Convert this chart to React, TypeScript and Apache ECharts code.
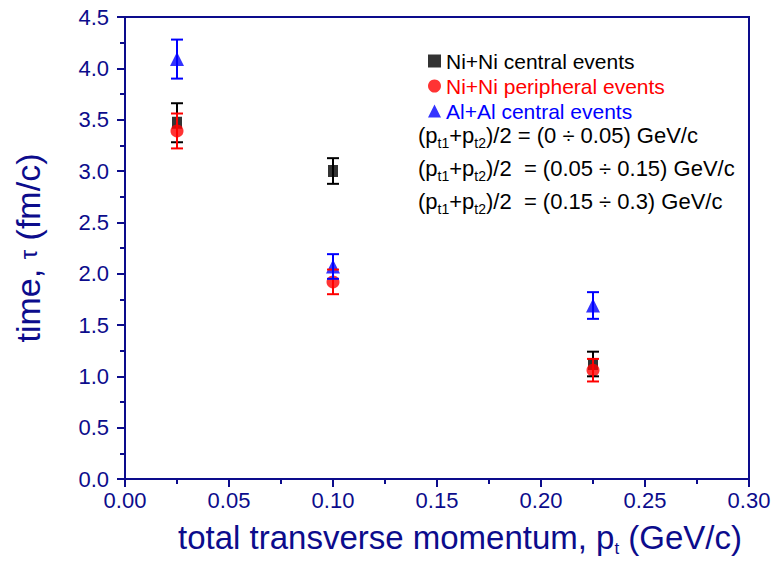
import React, { useEffect, useRef } from "react";
import * as echarts from "echarts";

const seriesNames = ["Ni+Ni central events", "Ni+Ni peripheral events", "Al+Al central events"];
const seriesColors = ["#000000", "#ff0000", "#0000ff"];
const seriesSymbols = ["rect", "circle", "triangle"];
const xValues = [0.025, 0.1, 0.225];
const niCentral = [3.47, 3.0, 1.12];
const niCentralErr = [0.19, 0.125, 0.12];
const niPeripheral = [3.39, 1.92, 1.06];
const niPeripheralErr = [0.17, 0.12, 0.11];
const alCentral = [4.09, 2.07, 1.69];
const alCentralErr = [0.19, 0.12, 0.13];
const rangeLines = ["(0 ÷ 0.05) GeV/c", "(0.05 ÷ 0.15) GeV/c", "(0.15 ÷ 0.3) GeV/c"];

const NAVY = "#0c0c8c";
const FONT = "Liberation Sans, Arial, sans-serif";

export default function App() {
  const ref = useRef<HTMLDivElement>(null);
  useEffect(() => {
    if (!ref.current) return;
    const chart = echarts.init(ref.current, undefined, { renderer: "svg" });
    const values = [niCentral, niPeripheral, alCentral];
    const errs = [niCentralErr, niPeripheralErr, alCentralErr];
    const symbolSizes: any[] = [[10, 12], 13, 14];

    const scatterSeries = values.map((vals, i) => ({
      name: seriesNames[i],
      type: "scatter",
      symbol: seriesSymbols[i],
      symbolSize: symbolSizes[i],
      itemStyle: { color: seriesColors[i] },
      data: xValues.map((x, j) => [x, vals[j]]),
      z: 2,
    }));

    const errSeries = values.map((vals, i) => ({
      name: seriesNames[i] + " err",
      type: "custom",
      z: 3,
      data: xValues.map((x, j) => [x, vals[j] - errs[i][j], vals[j] + errs[i][j]]),
      renderItem: (params: any, api: any) => {
        const x = api.value(0);
        const lo = api.coord([x, api.value(1)]);
        const hi = api.coord([x, api.value(2)]);
        const hw = 6;
        const style = { stroke: seriesColors[i], lineWidth: 2 };
        return {
          type: "group",
          children: [
            { type: "line", shape: { x1: lo[0], y1: lo[1], x2: hi[0], y2: hi[1] }, style },
            { type: "line", shape: { x1: hi[0] - hw, y1: hi[1], x2: hi[0] + hw, y2: hi[1] }, style },
            { type: "line", shape: { x1: lo[0] - hw, y1: lo[1], x2: lo[0] + hw, y2: lo[1] }, style },
          ],
        };
      },
    }));

    const richSub = { fontSize: 14, fontFamily: FONT, color: "#000", lineHeight: 14, padding: [15, 0, 0, 0] };

    chart.setOption({
      animation: false,
      grid: {
        left: 125, right: 34, top: 17, bottom: 84,
        show: true, borderColor: NAVY, borderWidth: 2, backgroundColor: "transparent",
      },
      legend: {
        orient: "vertical",
        left: 423,
        top: 45,
        itemWidth: 13,
        itemHeight: 13,
        itemGap: 3,
        textStyle: { fontSize: 21, fontFamily: FONT, lineHeight: 22 },
        data: seriesNames.map((n, i) => ({
          name: n,
          icon: seriesSymbols[i],
          itemStyle: { color: seriesColors[i] },
          textStyle: { color: seriesColors[i] },
        })),
      },
      xAxis: {
        type: "value",
        min: 0,
        max: 0.3,
        interval: 0.05,
        name: "total transverse momentum, p{sub|t} (GeV/c)",
        nameLocation: "middle",
        nameGap: 42,
        nameTextStyle: {
          color: NAVY, fontSize: 33, fontFamily: FONT, padding: [0, 0, 0, 46],
          rich: {
            sub: { fontSize: 17, color: NAVY, fontFamily: FONT, padding: [22, 0, 0, 0], lineHeight: 17 },
          },
        },
        axisLine: { lineStyle: { color: NAVY, width: 2 } },
        axisTick: { show: true, inside: false, length: 8, lineStyle: { color: NAVY, width: 2 } },
        minorTick: { show: true, splitNumber: 2, length: 5, lineStyle: { color: NAVY, width: 2 } },
        axisLabel: {
          color: NAVY, fontSize: 22, fontFamily: FONT, margin: 10,
          formatter: (v: number) => v.toFixed(2),
        },
        splitLine: { show: false },
      },
      yAxis: {
        type: "value",
        min: 0,
        max: 4.5,
        interval: 0.5,
        name: "time, {tau|τ} (fm/c)",
        nameLocation: "middle",
        nameGap: 80,
        nameTextStyle: {
          color: NAVY, fontSize: 34, fontFamily: FONT,
          rich: { tau: { fontSize: 24, color: NAVY, fontFamily: FONT } },
        },
        axisLine: { lineStyle: { color: NAVY, width: 2 } },
        axisTick: { show: true, inside: false, length: 8, lineStyle: { color: NAVY, width: 2 } },
        minorTick: { show: true, splitNumber: 2, length: 5, lineStyle: { color: NAVY, width: 2 } },
        axisLabel: {
          color: NAVY, fontSize: 22, fontFamily: FONT, margin: 16,
          formatter: (v: number) => v.toFixed(1),
        },
        splitLine: { show: false },
      },
      graphic: rangeLines.map((r, i) => ({
        type: "text",
        left: 418,
        top: 121 + i * 33,
        style: {
          text: "(p{sub|t1}+p{sub|t2})/2 " + (i === 0 ? "" : " ") + "= " + r,
          fontSize: 22,
          fontFamily: FONT,
          fill: "#000",
          rich: { sub: richSub },
        },
      })),
      series: [...scatterSeries, ...errSeries],
    });
    return () => chart.dispose();
  }, []);
  return <div ref={ref} style={{ position: "absolute", left: 0, top: 0, width: 783, height: 563 }} />;
}
